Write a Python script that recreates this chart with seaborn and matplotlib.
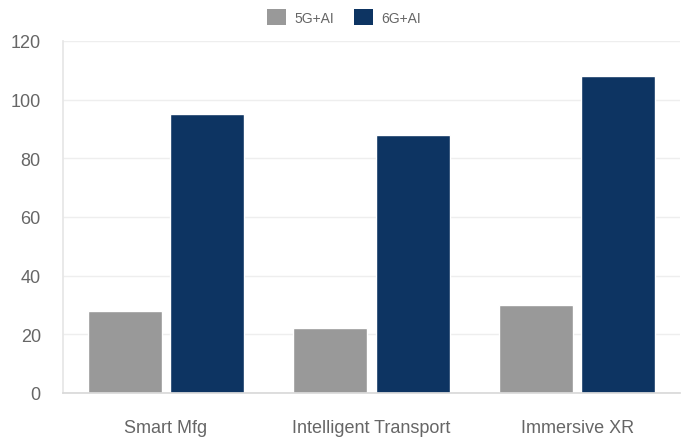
import matplotlib
matplotlib.use("Agg")
import matplotlib.pyplot as plt
import seaborn as sns
import pandas as pd
from matplotlib.patches import Patch

categories = ["Smart Mfg", "Intelligent Transport", "Immersive XR"]
series_names = ["5G+AI", "6G+AI"]
values_5g = [28, 22, 30]
values_6g = [95, 88, 108]
colors = ["#999999", "#0d3462"]

df = pd.DataFrame({
    "category": categories * 2,
    "series": [series_names[0]] * 3 + [series_names[1]] * 3,
    "value": values_5g + values_6g,
})

sns.set_theme(style="white")
plt.rcParams["font.family"] = ["Liberation Sans", "DejaVu Sans"]

fig = plt.figure(figsize=(6.88, 4.39), dpi=100)
ax = fig.add_axes([63 / 688, 45 / 439, 617 / 688, 352 / 439])

sns.barplot(data=df, x="category", y="value", hue="series", palette=colors,
            width=0.8, gap=0.1, ax=ax, legend=False, saturation=1)

ax.set_ylim(0, 120)
ax.set_yticks(range(0, 121, 20))
ax.set_xlabel("")
ax.set_ylabel("")
ax.grid(axis="y", color="#eeeeee", linewidth=1)
ax.set_axisbelow(True)
for s in ["top", "right"]:
    ax.spines[s].set_visible(False)
ax.spines["left"].set_color("#e6e6e6")
ax.spines["bottom"].set_color("#d9d9d9")
ax.tick_params(axis="both", colors="#666666", labelsize=13, length=0)
ax.tick_params(axis="y", pad=16)
ax.tick_params(axis="x", pad=19)

handles = [Patch(facecolor=c, edgecolor="none") for c in colors]
fig.legend(handles, series_names, loc="upper center", bbox_to_anchor=(0.5, 1.005),
           ncol=2, frameon=False, fontsize=10, labelcolor="#666666",
           handlelength=1.4, handleheight=1.4, columnspacing=1.4, handletextpad=0.6)

fig.savefig("out.png", dpi=100)
